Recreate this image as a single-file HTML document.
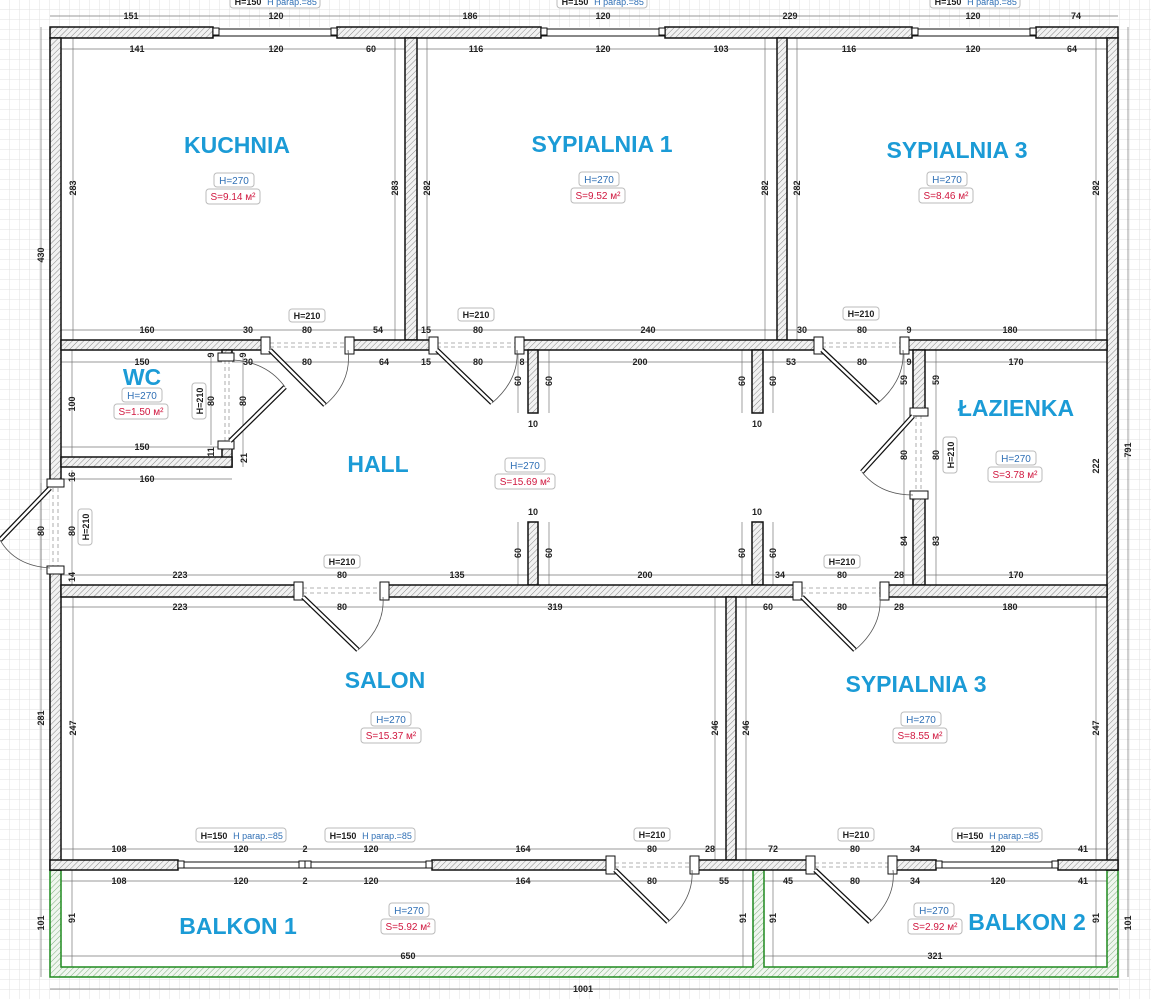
<!DOCTYPE html>
<html><head><meta charset="utf-8"><style>
html,body{margin:0;padding:0;background:#fff;}
svg{display:block;font-family:"Liberation Sans",sans-serif;}
.d{font-size:9px;fill:#222;text-anchor:middle;font-weight:bold}
.r{font-size:23px;fill:#1b9bd6;font-weight:bold;text-anchor:middle}
.dl{stroke:#777;stroke-width:.7;fill:none}
.w{fill:url(#h);stroke:#111;stroke-width:1.5}
.g{fill:url(#hg);stroke:#1f8a1f;stroke-width:1.5}
.hb{fill:#fff;stroke:#bbb;stroke-width:1}
.hb2{fill:#fff;stroke:#bbb;stroke-width:1}
.ht{font-size:10px;fill:#2f6fb5;text-anchor:middle}
.st{font-size:10px;fill:#d0173f;text-anchor:middle}
.bt{font-size:9px;fill:#222;text-anchor:middle;font-weight:bold}
.jb{fill:#fff;stroke:#111;stroke-width:1}
</style></head><body>
<svg width="1151" height="999" viewBox="0 0 1151 999" xmlns="http://www.w3.org/2000/svg">
<defs>
<pattern id="grid" width="10" height="10" patternUnits="userSpaceOnUse"><path d="M10 0V10H0" fill="none" stroke="#e2e2e2" stroke-width="1"/></pattern>
<pattern id="h" width="4" height="4" patternUnits="userSpaceOnUse" patternTransform="rotate(45)"><rect width="4" height="4" fill="#f2f2f2"/><line x1="0" y1="0" x2="0" y2="4" stroke="#888" stroke-width="1"/></pattern>
<pattern id="hg" width="4" height="4" patternUnits="userSpaceOnUse" patternTransform="rotate(45)"><rect width="4" height="4" fill="#f0f6ef"/><line x1="0" y1="0" x2="0" y2="4" stroke="#7fae7f" stroke-width="1"/></pattern>
</defs>
<rect width="1151" height="999" fill="url(#grid)"/>
<rect x="50" y="27" width="1068" height="950" fill="#fff"/>

<!-- dimension lines -->
<g class="dl">
<line x1="50" y1="16" x2="1118" y2="16"/><line x1="61" y1="49" x2="405" y2="49"/><line x1="417" y1="49" x2="777" y2="49"/><line x1="787" y1="49" x2="1107" y2="49"/>
<line x1="41" y1="27" x2="41" y2="977"/><line x1="1128" y1="27" x2="1128" y2="977"/><line x1="50" y1="989" x2="1118" y2="989"/>
<line x1="73" y1="38" x2="73" y2="340"/><line x1="395" y1="38" x2="395" y2="340"/><line x1="427" y1="38" x2="427" y2="340"/><line x1="765" y1="38" x2="765" y2="340"/><line x1="797" y1="38" x2="797" y2="340"/><line x1="1096" y1="38" x2="1096" y2="340"/>
<line x1="61" y1="330" x2="405" y2="330"/><line x1="417" y1="330" x2="777" y2="330"/><line x1="787" y1="330" x2="1107" y2="330"/>
<line x1="61" y1="362" x2="222" y2="362"/><line x1="232" y1="362" x2="528" y2="362"/><line x1="538" y1="362" x2="752" y2="362"/><line x1="763" y1="362" x2="913" y2="362"/><line x1="925" y1="362" x2="1107" y2="362"/>
<line x1="61" y1="447" x2="222" y2="447"/><line x1="61" y1="479" x2="232" y2="479"/>
<line x1="61" y1="575" x2="528" y2="575"/><line x1="538" y1="575" x2="752" y2="575"/><line x1="763" y1="575" x2="913" y2="575"/><line x1="925" y1="575" x2="1107" y2="575"/>
<line x1="61" y1="607" x2="726" y2="607"/><line x1="736" y1="607" x2="1107" y2="607"/>
<line x1="73" y1="597" x2="73" y2="860"/><line x1="715" y1="597" x2="715" y2="860"/><line x1="746" y1="597" x2="746" y2="860"/><line x1="1096" y1="597" x2="1096" y2="860"/>
<line x1="61" y1="849" x2="726" y2="849"/><line x1="736" y1="849" x2="1107" y2="849"/>
<line x1="61" y1="881" x2="753" y2="881"/><line x1="764" y1="881" x2="1107" y2="881"/>
<line x1="61" y1="956" x2="753" y2="956"/><line x1="764" y1="956" x2="1107" y2="956"/>
<line x1="72" y1="870" x2="72" y2="967"/><line x1="743" y1="870" x2="743" y2="967"/><line x1="773" y1="870" x2="773" y2="967"/><line x1="1096" y1="870" x2="1096" y2="967"/>
<line x1="904" y1="350" x2="904" y2="585"/><line x1="936" y1="350" x2="936" y2="585"/>
<line x1="518" y1="350" x2="518" y2="413"/><line x1="549" y1="350" x2="549" y2="413"/><line x1="742" y1="350" x2="742" y2="413"/><line x1="773" y1="350" x2="773" y2="413"/>
<line x1="518" y1="522" x2="518" y2="585"/><line x1="549" y1="522" x2="549" y2="585"/><line x1="742" y1="522" x2="742" y2="585"/><line x1="773" y1="522" x2="773" y2="585"/>
<line x1="72" y1="350" x2="72" y2="457"/><line x1="211" y1="357" x2="211" y2="445"/><line x1="243" y1="357" x2="243" y2="467"/>
<line x1="41" y1="483" x2="41" y2="570"/><line x1="72" y1="470" x2="72" y2="585"/>
</g>

<!-- balcony walls -->
<path class="g" d="M50 870H61V967H753V870H764V967H1107V870H1118V977H50Z"/>

<!-- walls -->
<g class="w">
<rect x="50" y="27" width="163" height="11"/><rect x="337" y="27" width="204" height="11"/><rect x="665" y="27" width="247" height="11"/><rect x="1036" y="27" width="82" height="11"/>
<rect x="50" y="38" width="11" height="445"/><rect x="50" y="570" width="11" height="300"/>
<rect x="1107" y="38" width="11" height="832"/>
<rect x="405" y="38" width="12" height="302"/><rect x="777" y="38" width="10" height="302"/>
<rect x="61" y="340" width="204" height="10"/><rect x="350" y="340" width="83" height="10"/><rect x="520" y="340" width="298" height="10"/><rect x="905" y="340" width="202" height="10"/>
<rect x="528" y="350" width="10" height="63"/><rect x="752" y="350" width="11" height="63"/>
<rect x="528" y="522" width="10" height="63"/><rect x="752" y="522" width="11" height="63"/>
<rect x="222" y="350" width="10" height="7"/><rect x="222" y="445" width="10" height="22"/>
<rect x="61" y="457" width="171" height="10"/>
<rect x="913" y="350" width="12" height="62"/><rect x="913" y="495" width="12" height="90"/>
<rect x="61" y="585" width="237" height="12"/><rect x="385" y="585" width="412" height="12"/><rect x="884" y="585" width="223" height="12"/>
<rect x="726" y="597" width="10" height="263"/>
<rect x="50" y="860" width="128" height="10"/><rect x="432" y="860" width="178" height="10"/><rect x="695" y="860" width="115" height="10"/><rect x="893" y="860" width="43" height="10"/><rect x="1058" y="860" width="60" height="10"/>
</g>

<!-- windows -->
<g fill="#fff" stroke="#111" stroke-width="1">
<rect x="213" y="29" width="124" height="7"/><rect x="541" y="29" width="124" height="7"/><rect x="912" y="29" width="124" height="7"/>
<rect x="178" y="862" width="127" height="6"/><rect x="305" y="862" width="127" height="6"/><rect x="936" y="862" width="122" height="6"/>
<rect x="213" y="28" width="6" height="7"/><rect x="331" y="28" width="6" height="7"/><rect x="541" y="28" width="6" height="7"/><rect x="659" y="28" width="6" height="7"/><rect x="912" y="28" width="6" height="7"/><rect x="1030" y="28" width="6" height="7"/>
<rect x="178" y="861" width="6" height="7"/><rect x="299" y="861" width="6" height="7"/><rect x="305" y="861" width="6" height="7"/><rect x="426" y="861" width="6" height="7"/><rect x="936" y="861" width="6" height="7"/><rect x="1052" y="861" width="6" height="7"/>
</g>

<!-- door openings dashed -->
<g stroke="#999" stroke-width=".8" stroke-dasharray="4,3" fill="none">
<line x1="270" y1="343" x2="345" y2="343"/><line x1="270" y1="347" x2="345" y2="347"/>
<line x1="437" y1="343" x2="515" y2="343"/><line x1="437" y1="347" x2="515" y2="347"/>
<line x1="822" y1="343" x2="900" y2="343"/><line x1="822" y1="347" x2="900" y2="347"/>
<line x1="225" y1="360" x2="225" y2="443"/><line x1="229" y1="360" x2="229" y2="443"/>
<line x1="916" y1="415" x2="916" y2="492"/><line x1="921" y1="415" x2="921" y2="492"/>
<line x1="53" y1="488" x2="53" y2="566"/><line x1="58" y1="488" x2="58" y2="566"/>
<line x1="303" y1="588" x2="380" y2="588"/><line x1="303" y1="593" x2="380" y2="593"/>
<line x1="802" y1="588" x2="880" y2="588"/><line x1="802" y1="593" x2="880" y2="593"/>
<line x1="615" y1="863" x2="690" y2="863"/><line x1="615" y1="867" x2="690" y2="867"/>
<line x1="815" y1="863" x2="888" y2="863"/><line x1="815" y1="867" x2="888" y2="867"/>
</g>
<!-- jambs -->
<g class="jb">
<rect x="261" y="337" width="9" height="17"/><rect x="345" y="337" width="9" height="17"/>
<rect x="429" y="337" width="9" height="17"/><rect x="515" y="337" width="9" height="17"/>
<rect x="814" y="337" width="9" height="17"/><rect x="900" y="337" width="9" height="17"/>
<rect x="218" y="353" width="16" height="8"/><rect x="218" y="441" width="16" height="8"/>
<rect x="910" y="408" width="18" height="8"/><rect x="910" y="491" width="18" height="8"/>
<rect x="47" y="479" width="17" height="8"/><rect x="47" y="566" width="17" height="8"/>
<rect x="294" y="582" width="9" height="18"/><rect x="380" y="582" width="9" height="18"/>
<rect x="793" y="582" width="9" height="18"/><rect x="880" y="582" width="9" height="18"/>
<rect x="606" y="856" width="9" height="18"/><rect x="690" y="856" width="9" height="18"/>
<rect x="806" y="856" width="9" height="18"/><rect x="888" y="856" width="9" height="18"/>
</g>
<!-- door leaves -->
<g stroke="#111" stroke-width="5" stroke-linecap="butt"><line x1="270" y1="350" x2="325" y2="405"/><line x1="437" y1="350" x2="492" y2="403"/><line x1="822" y1="350" x2="878" y2="403"/><line x1="230" y1="441" x2="285" y2="387"/><line x1="913" y1="416" x2="862" y2="472"/><line x1="50" y1="488" x2="0" y2="540"/><line x1="303" y1="597" x2="358" y2="650"/><line x1="802" y1="597" x2="855" y2="650"/><line x1="615" y1="870" x2="668" y2="922"/><line x1="815" y1="870" x2="870" y2="922"/></g>
<g stroke="#fff" stroke-width="2.5"><line x1="270" y1="350" x2="325" y2="405"/><line x1="437" y1="350" x2="492" y2="403"/><line x1="822" y1="350" x2="878" y2="403"/><line x1="230" y1="441" x2="285" y2="387"/><line x1="913" y1="416" x2="862" y2="472"/><line x1="50" y1="488" x2="0" y2="540"/><line x1="303" y1="597" x2="358" y2="650"/><line x1="802" y1="597" x2="855" y2="650"/><line x1="615" y1="870" x2="668" y2="922"/><line x1="815" y1="870" x2="870" y2="922"/></g>
<g stroke="#555" stroke-width=".8" fill="none">
<path d="M325 405Q352 382 348 350"/><path d="M492 403Q519 380 517 350"/><path d="M878 403Q905 380 903 350"/>
<path d="M285 387Q267 362 233 360"/><path d="M862 472Q880 495 913 495"/><path d="M0 540Q15 566 50 568"/>
<path d="M358 650Q385 627 383 597"/><path d="M855 650Q882 627 880 597"/><path d="M668 922Q694 898 692 870"/><path d="M870 922Q896 898 893 870"/>
</g>

<!-- room labels -->
<text class="r" x="237" y="153">KUCHNIA</text>
<text class="r" x="602" y="152">SYPIALNIA 1</text>
<text class="r" x="957" y="158">SYPIALNIA 3</text>
<text class="r" x="142" y="385">WC</text>
<text class="r" x="1016" y="416">ŁAZIENKA</text>
<text class="r" x="378" y="472">HALL</text>
<text class="r" x="385" y="688">SALON</text>
<text class="r" x="916" y="692">SYPIALNIA 3</text>
<text class="r" x="238" y="934">BALKON 1</text>
<text class="r" x="1027" y="930">BALKON 2</text>

<!-- area badges -->
<g>
<rect class="hb" x="214" y="173" width="40" height="14" rx="3"/><text class="ht" x="234" y="184">H=270</text>
<rect class="hb" x="206" y="189" width="54" height="15" rx="3"/><text class="st" x="233" y="200">S=9.14 м²</text>
<rect class="hb" x="579" y="172" width="40" height="14" rx="3"/><text class="ht" x="599" y="183">H=270</text>
<rect class="hb" x="571" y="188" width="54" height="15" rx="3"/><text class="st" x="598" y="199">S=9.52 м²</text>
<rect class="hb" x="927" y="172" width="40" height="14" rx="3"/><text class="ht" x="947" y="183">H=270</text>
<rect class="hb" x="919" y="188" width="54" height="15" rx="3"/><text class="st" x="946" y="199">S=8.46 м²</text>
<rect class="hb" x="122" y="388" width="40" height="14" rx="3"/><text class="ht" x="142" y="399">H=270</text>
<rect class="hb" x="114" y="404" width="54" height="15" rx="3"/><text class="st" x="141" y="415">S=1.50 м²</text>
<rect class="hb" x="996" y="451" width="40" height="14" rx="3"/><text class="ht" x="1016" y="462">H=270</text>
<rect class="hb" x="988" y="467" width="54" height="15" rx="3"/><text class="st" x="1015" y="478">S=3.78 м²</text>
<rect class="hb" x="505" y="458" width="40" height="14" rx="3"/><text class="ht" x="525" y="469">H=270</text>
<rect class="hb" x="495" y="474" width="60" height="15" rx="3"/><text class="st" x="525" y="485">S=15.69 м²</text>
<rect class="hb" x="371" y="712" width="40" height="14" rx="3"/><text class="ht" x="391" y="723">H=270</text>
<rect class="hb" x="361" y="728" width="60" height="15" rx="3"/><text class="st" x="391" y="739">S=15.37 м²</text>
<rect class="hb" x="901" y="712" width="40" height="14" rx="3"/><text class="ht" x="921" y="723">H=270</text>
<rect class="hb" x="893" y="728" width="54" height="15" rx="3"/><text class="st" x="920" y="739">S=8.55 м²</text>
<rect class="hb" x="389" y="903" width="40" height="14" rx="3"/><text class="ht" x="409" y="914">H=270</text>
<rect class="hb" x="381" y="919" width="54" height="15" rx="3"/><text class="st" x="408" y="930">S=5.92 м²</text>
<rect class="hb" x="914" y="903" width="40" height="14" rx="3"/><text class="ht" x="934" y="914">H=270</text>
<rect class="hb" x="908" y="919" width="54" height="15" rx="3"/><text class="st" x="935" y="930">S=2.92 м²</text>
</g>

<!-- door/window badges -->
<g>
<rect class="hb" x="230" y="-6" width="90" height="14" rx="3"/><text class="bt" x="248" y="5">H=150</text><text class="ht" x="292" y="5" style="font-size:9px">H parap.=85</text>
<rect class="hb" x="557" y="-6" width="90" height="14" rx="3"/><text class="bt" x="575" y="5">H=150</text><text class="ht" x="619" y="5" style="font-size:9px">H parap.=85</text>
<rect class="hb" x="930" y="-6" width="90" height="14" rx="3"/><text class="bt" x="948" y="5">H=150</text><text class="ht" x="992" y="5" style="font-size:9px">H parap.=85</text>
<rect class="hb" x="196" y="828" width="90" height="14" rx="3"/><text class="bt" x="214" y="839">H=150</text><text class="ht" x="258" y="839" style="font-size:9px">H parap.=85</text>
<rect class="hb" x="325" y="828" width="90" height="14" rx="3"/><text class="bt" x="343" y="839">H=150</text><text class="ht" x="387" y="839" style="font-size:9px">H parap.=85</text>
<rect class="hb" x="952" y="828" width="90" height="14" rx="3"/><text class="bt" x="970" y="839">H=150</text><text class="ht" x="1014" y="839" style="font-size:9px">H parap.=85</text>
<rect class="hb" x="289" y="309" width="36" height="13" rx="3"/><text class="bt" x="307" y="319">H=210</text>
<rect class="hb" x="458" y="308" width="36" height="13" rx="3"/><text class="bt" x="476" y="318">H=210</text>
<rect class="hb" x="843" y="307" width="36" height="13" rx="3"/><text class="bt" x="861" y="317">H=210</text>
<rect class="hb" x="324" y="555" width="36" height="13" rx="3"/><text class="bt" x="342" y="565">H=210</text>
<rect class="hb" x="824" y="555" width="36" height="13" rx="3"/><text class="bt" x="842" y="565">H=210</text>
<rect class="hb" x="634" y="828" width="36" height="13" rx="3"/><text class="bt" x="652" y="838">H=210</text>
<rect class="hb" x="838" y="828" width="36" height="13" rx="3"/><text class="bt" x="856" y="838">H=210</text>
<rect class="hb" x="192" y="383" width="14" height="36" rx="3"/><text class="bt" transform="translate(203,401) rotate(-90)">H=210</text>
<rect class="hb" x="943" y="437" width="14" height="36" rx="3"/><text class="bt" transform="translate(954,455) rotate(-90)">H=210</text>
<rect class="hb" x="78" y="509" width="14" height="36" rx="3"/><text class="bt" transform="translate(89,527) rotate(-90)">H=210</text>
</g>

<!-- dimension numbers -->
<g class="d">
<g fill="#fff" stroke="none"></g>
<text x="131" y="19">151</text><text x="276" y="19">120</text><text x="470" y="19">186</text><text x="603" y="19">120</text><text x="790" y="19">229</text><text x="973" y="19">120</text><text x="1076" y="19">74</text>
<text x="137" y="52">141</text><text x="276" y="52">120</text><text x="371" y="52">60</text><text x="476" y="52">116</text><text x="603" y="52">120</text><text x="721" y="52">103</text><text x="849" y="52">116</text><text x="973" y="52">120</text><text x="1072" y="52">64</text>
<text x="147" y="333">160</text><text x="248" y="333">30</text><text x="307" y="333">80</text><text x="378" y="333">54</text><text x="426" y="333">15</text><text x="478" y="333">80</text><text x="648" y="333">240</text><text x="802" y="333">30</text><text x="862" y="333">80</text><text x="909" y="333">9</text><text x="1010" y="333">180</text>
<text x="142" y="365">150</text><text x="248" y="365">30</text><text x="307" y="365">80</text><text x="384" y="365">64</text><text x="426" y="365">15</text><text x="478" y="365">80</text><text x="522" y="365">8</text><text x="640" y="365">200</text><text x="791" y="365">53</text><text x="862" y="365">80</text><text x="909" y="365">9</text><text x="1016" y="365">170</text>
<text x="142" y="450">150</text><text x="147" y="482">160</text>
<text x="533" y="427">10</text><text x="757" y="427">10</text><text x="533" y="515">10</text><text x="757" y="515">10</text>
<text x="180" y="578">223</text><text x="342" y="578">80</text><text x="457" y="578">135</text><text x="645" y="578">200</text><text x="780" y="578">34</text><text x="842" y="578">80</text><text x="899" y="578">28</text><text x="1016" y="578">170</text>
<text x="180" y="610">223</text><text x="342" y="610">80</text><text x="555" y="610">319</text><text x="768" y="610">60</text><text x="842" y="610">80</text><text x="899" y="610">28</text><text x="1010" y="610">180</text>
<text x="119" y="852">108</text><text x="241" y="852">120</text><text x="305" y="852">2</text><text x="371" y="852">120</text><text x="523" y="852">164</text><text x="652" y="852">80</text><text x="710" y="852">28</text><text x="773" y="852">72</text><text x="855" y="852">80</text><text x="915" y="852">34</text><text x="998" y="852">120</text><text x="1083" y="852">41</text>
<text x="119" y="884">108</text><text x="241" y="884">120</text><text x="305" y="884">2</text><text x="371" y="884">120</text><text x="523" y="884">164</text><text x="652" y="884">80</text><text x="724" y="884">55</text><text x="788" y="884">45</text><text x="855" y="884">80</text><text x="915" y="884">34</text><text x="998" y="884">120</text><text x="1083" y="884">41</text>
<text x="408" y="959">650</text><text x="935" y="959">321</text><text x="583" y="992">1001</text>
<text transform="translate(44,255) rotate(-90)">430</text>
<text transform="translate(76,188) rotate(-90)">283</text><text transform="translate(398,188) rotate(-90)">283</text><text transform="translate(430,188) rotate(-90)">282</text><text transform="translate(768,188) rotate(-90)">282</text><text transform="translate(800,188) rotate(-90)">282</text><text transform="translate(1099,188) rotate(-90)">282</text>
<text transform="translate(1131,450) rotate(-90)">791</text><text transform="translate(44,718) rotate(-90)">281</text>
<text transform="translate(44,923) rotate(-90)">101</text><text transform="translate(1131,923) rotate(-90)">101</text>
<text transform="translate(75,404) rotate(-90)">100</text><text transform="translate(214,401) rotate(-90)">80</text><text transform="translate(246,401) rotate(-90)">80</text>
<text transform="translate(214,355) rotate(-90)">9</text><text transform="translate(246,355) rotate(-90)">9</text><text transform="translate(214,452) rotate(-90)">11</text><text transform="translate(247,458) rotate(-90)">21</text>
<text transform="translate(521,381) rotate(-90)">60</text><text transform="translate(552,381) rotate(-90)">60</text><text transform="translate(745,381) rotate(-90)">60</text><text transform="translate(776,381) rotate(-90)">60</text>
<text transform="translate(521,553) rotate(-90)">60</text><text transform="translate(552,553) rotate(-90)">60</text><text transform="translate(745,553) rotate(-90)">60</text><text transform="translate(776,553) rotate(-90)">60</text>
<text transform="translate(907,380) rotate(-90)">59</text><text transform="translate(939,380) rotate(-90)">59</text><text transform="translate(907,455) rotate(-90)">80</text><text transform="translate(939,455) rotate(-90)">80</text><text transform="translate(907,541) rotate(-90)">84</text><text transform="translate(939,541) rotate(-90)">83</text>
<text transform="translate(1099,466) rotate(-90)">222</text>
<text transform="translate(75,477) rotate(-90)">16</text><text transform="translate(44,531) rotate(-90)">80</text><text transform="translate(75,531) rotate(-90)">80</text><text transform="translate(75,577) rotate(-90)">14</text>
<text transform="translate(76,728) rotate(-90)">247</text><text transform="translate(718,728) rotate(-90)">246</text><text transform="translate(749,728) rotate(-90)">246</text><text transform="translate(1099,728) rotate(-90)">247</text>
<text transform="translate(75,918) rotate(-90)">91</text><text transform="translate(746,918) rotate(-90)">91</text><text transform="translate(776,918) rotate(-90)">91</text><text transform="translate(1099,918) rotate(-90)">91</text>
</g>
</svg>
</body></html>
